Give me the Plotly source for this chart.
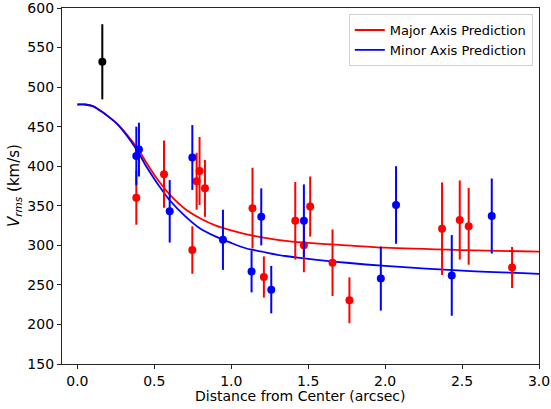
import plotly.graph_objects as go

# Central (black) point
center_x = [0.162]
center_y = [532]
center_err = [47.5]

# Minor-axis (blue) measurements
blue_x = [0.383, 0.400, 0.600, 0.747, 0.946, 1.132, 1.195, 1.260, 1.472, 1.972, 2.071, 2.433, 2.693]
blue_y = [413, 421, 343, 411, 307, 267, 336, 244, 331, 258, 351, 262, 337]
blue_err = [37, 34, 39.5, 41, 38, 26.5, 36, 30, 46, 40.5, 49, 51, 47.5]

# Major-axis (red) measurements
red_x = [0.383, 0.563, 0.747, 0.775, 0.794, 0.829, 1.138, 1.212, 1.416, 1.472, 1.513, 1.658, 1.768, 2.370, 2.485, 2.543, 2.825]
red_y = [360, 390, 294, 381, 394, 372, 347, 260, 331, 300, 349, 278, 230.5, 321, 332, 324, 272]
red_err = [34, 42.5, 30, 36, 43, 36, 51, 26, 49, 34, 38, 42, 29, 58.5, 50, 48.5, 26]

# Model prediction curves
curve_x = [0, 0.05, 0.1, 0.15, 0.2, 0.25, 0.3, 0.35, 0.4, 0.45, 0.5, 0.55, 0.6, 0.7, 0.8,
           0.9, 1.0, 1.1, 1.2, 1.3, 1.5, 1.75, 2.0, 2.5, 3.0]
major_curve = [478, 478, 476, 470, 463, 455, 445, 433, 420, 404, 389, 376, 364, 346, 334,
               325, 319, 314, 310, 307, 303, 300, 297, 294, 292]
minor_curve = [478, 478, 476, 470, 463, 455, 444, 431, 416, 399, 384, 370, 357, 337, 321,
               311, 303, 296, 292, 288, 283, 278, 274, 268, 264]

RED = "#ff0000"
BLUE = "#0000ff"

fig = go.Figure()

fig.add_trace(go.Scatter(x=curve_x, y=major_curve, mode="lines", name="Major Axis Prediction",
                         line=dict(color=RED, width=1.8, shape="spline", smoothing=0.8)))
fig.add_trace(go.Scatter(x=curve_x, y=minor_curve, mode="lines", name="Minor Axis Prediction",
                         line=dict(color=BLUE, width=1.8, shape="spline", smoothing=0.8)))

def points(x, y, err, color):
    return go.Scatter(x=x, y=y, mode="markers", showlegend=False,
                      marker=dict(color=color, size=8, line=dict(width=0)),
                      error_y=dict(type="data", array=err, visible=True, color=color,
                                   thickness=2, width=0))

fig.add_trace(points(red_x, red_y, red_err, RED))
fig.add_trace(points(blue_x, blue_y, blue_err, BLUE))
fig.add_trace(points(center_x, center_y, center_err, "#000000"))

axis_common = dict(showline=True, linecolor="#262626", linewidth=1.2, mirror=True,
                   ticks="outside", ticklen=4, tickwidth=1, tickcolor="#262626",
                   showgrid=False, zeroline=False, automargin=False,
                   ticklabeloverflow="allow",
                   tickfont=dict(family="DejaVu Sans", size=14, color="#000000"))

fig.update_layout(
    width=551, height=409,
    margin=dict(l=62, r=12, t=8, b=45),
    paper_bgcolor="white", plot_bgcolor="white",
    font=dict(family="DejaVu Sans", size=14, color="#000000"),
    xaxis=dict(range=[-0.1, 3.0], tickvals=[0, 0.5, 1.0, 1.5, 2.0, 2.5, 3.0],
               ticktext=["0.0", "0.5", "1.0", "1.5", "2.0", "2.5", "3.0"],
               ticklabelstandoff=0, **axis_common),
    yaxis=dict(range=[150, 600], tickvals=[150, 200, 250, 300, 350, 400, 450, 500, 550, 600],
               **axis_common),
    legend=dict(x=0.987, y=0.983, xanchor="right", yanchor="top",
                bgcolor="rgba(255,255,255,0.9)", bordercolor="#d0d0d0", borderwidth=1,
                font=dict(family="DejaVu Sans", size=13), tracegroupgap=0,
                itemwidth=30),
    showlegend=True,
    annotations=[
        dict(text="Distance from Center (arcsec)", xref="paper", yref="paper",
             x=0.5, y=0, yshift=-32, xanchor="center", yanchor="middle", showarrow=False,
             font=dict(family="DejaVu Sans", size=14, color="#000000")),
        dict(text="<i>V</i><sub><i>rms</i></sub> (km/s)", xref="paper", yref="paper",
             x=0, y=0.5, xshift=-48, xanchor="center", yanchor="middle", textangle=-90,
             showarrow=False, font=dict(family="DejaVu Sans", size=15, color="#000000")),
    ],
)

fig.write_html("out.html", config={"displayModeBar": False},
               post_script="document.body.style.margin='0px';")
